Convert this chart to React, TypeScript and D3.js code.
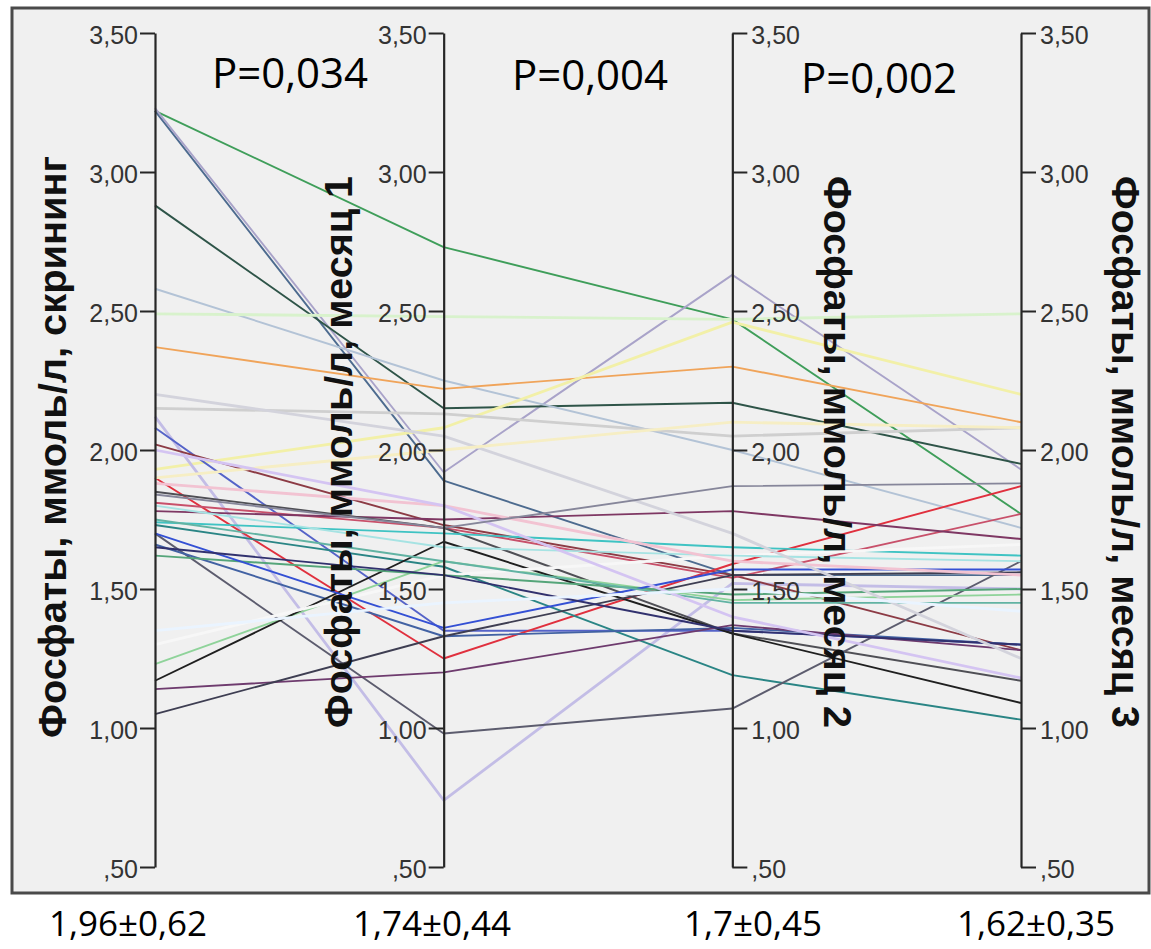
import React, { useEffect, useRef } from "react";
import * as d3 from "d3";

// phosphate values, mmol/l, one entry per patient
const dimensions = ["screening", "month1", "month2", "month3"];
const dimensionTitles = [
	"Фосфаты, ммоль/л, скрининг",
	"Фосфаты, ммоль/л, месяц 1",
	"Фосфаты, ммоль/л, месяц 2",
	"Фосфаты, ммоль/л, месяц 3",
];
const screening = [3.22, 3.22, 3.23, 2.88, 2.58, 2.49, 2.37, 1.93, 2.15, 2.12, 2.08, 2.02, 1.90, 1.81, 1.78, 1.85, 1.74, 1.73, 1.70, 1.66, 1.23, 1.17, 1.14, 1.05, 1.30, 1.62, 1.80, 1.70, 1.65, 1.88, 1.75, 2.20, 1.90, 2.00, 1.84, 1.35];
const month1 = [2.73, 1.89, 1.92, 2.15, 2.25, 2.48, 2.22, 2.08, 2.13, 0.74, 1.35, 1.73, 1.25, 1.72, 1.75, 1.72, 1.70, 1.58, 0.98, 1.33, 1.60, 1.67, 1.20, 1.33, 1.55, 1.55, 1.65, 1.36, 1.55, 1.80, 1.60, 2.05, 2.00, 1.80, 1.72, 1.45];
const month2 = [2.47, 1.55, 2.63, 2.17, 2.00, 2.47, 2.30, 2.46, 2.05, 1.52, 1.35, 1.55, 1.59, 1.54, 1.78, 1.34, 1.65, 1.19, 1.07, 1.36, 1.46, 1.34, 1.37, 1.55, 1.62, 1.48, 1.62, 1.57, 1.35, 1.60, 1.45, 1.70, 2.10, 1.40, 1.87, 1.50];
const month3 = [1.77, 1.55, 1.93, 1.95, 1.72, 2.49, 2.10, 2.20, 2.08, 1.50, 1.30, 1.28, 1.87, 1.77, 1.68, 1.17, 1.62, 1.03, 1.60, 1.30, 1.48, 1.09, 1.28, 1.56, 1.66, 1.50, 1.60, 1.57, 1.30, 1.55, 1.45, 1.25, 2.08, 1.18, 1.88, 1.42];
const caseColors = ["#3f9e5a", "#4d6b8f", "#a9a3c9", "#2e5448", "#b3c3d6", "#d8f2cc", "#f0a45a", "#f2f0a8", "#cfcfcf", "#c3bde6", "#5563c8", "#8c3b45", "#e0303e", "#c8506a", "#7e3763", "#4f4f55", "#3fc3c3", "#2a8585", "#5c5c6e", "#4262a3", "#8fd39a", "#1f1f1f", "#6e3b6e", "#3e3e52", "#f7f7f7", "#55a57a", "#a6e3e3", "#3450d4", "#31316e", "#f2c3d2", "#62b3a3", "#d3d3dc", "#f6eec4", "#d4c4f2", "#86869a", "#eaf4ff"];
const tickValues = [0.5, 1.0, 1.5, 2.0, 2.5, 3.0, 3.5];
const pValues = ["P=0,034", "P=0,004", "P=0,002"];
const summaries = ["1,96±0,62", "1,74±0,44", "1,7±0,45", "1,62±0,35"];

export default function App() {
	const ref = useRef<SVGSVGElement>(null);

	useEffect(() => {
		const svg = d3.select(ref.current);
		svg.selectAll("*").remove();

		const x = d3.scalePoint().domain(dimensions).range([155, 1021]);
		const y = d3.scaleLinear().domain([0.5, 3.5]).range([867, 33]);

		// frame
		svg.append("rect")
			.attr("x", 12).attr("y", 8)
			.attr("width", 1137).attr("height", 885)
			.attr("fill", "#f0f0f0")
			.attr("stroke", "#4a4a4a")
			.attr("stroke-width", 3);

		const rows = screening.map((d, i) => [screening[i], month1[i], month2[i], month3[i]]);

		const line = d3.line<number>()
			.x((d, i) => x(dimensions[i]) as number)
			.y(d => y(d));

		svg.append("g")
			.selectAll("path")
			.data(rows)
			.join("path")
			.attr("d", d => line(d))
			.attr("fill", "none")
			.attr("stroke", (d, i) => caseColors[i])
			.attr("stroke-width", (d, i) => (d3.hsl(caseColors[i]).l > 0.8 ? 2.8 : 1.9))
			.attr("stroke-linejoin", "round");

		const fmt = (v: number) => d3.format(".2f")(v).replace(/^0/, "").replace(".", ",");

		dimensions.forEach((dim, i) => {
			const left = i < 2;
			const axis = (left ? d3.axisLeft(y) : d3.axisRight(y))
				.tickValues(tickValues)
				.tickSize(15)
				.tickSizeOuter(0)
				.tickPadding(left ? 2 : 4)
				.tickFormat(v => fmt(v as number));

			const g = svg.append("g")
				.attr("transform", "translate(" + x(dim) + ",0)")
				.call(axis);

			g.select(".domain").attr("stroke", "#262626").attr("stroke-width", 2.2);
			g.selectAll(".tick line").attr("stroke", "#262626").attr("stroke-width", 2);
			g.selectAll(".tick text")
				.attr("font-family", "'Liberation Sans', Arial, sans-serif")
				.attr("font-size", 25)
				.attr("fill", "#333")
				.attr("dy", "0.4em");
		});

		// axis titles
		const titles = [
			{ x: 66, y: 447, rot: -90 },
			{ x: 352, y: 452, rot: -90 },
			{ x: 824, y: 452, rot: 90 },
			{ x: 1112, y: 452, rot: 90 },
		];
		titles.forEach((t, i) => {
			svg.append("text")
				.attr("transform", "translate(" + t.x + "," + t.y + ") rotate(" + t.rot + ")")
				.attr("text-anchor", "middle")
				.attr("font-family", "'Liberation Sans', Arial, sans-serif")
				.attr("font-weight", "bold")
				.attr("font-size", 38)
				.attr("textLength", i === 0 ? 582 : 552)
				.attr("lengthAdjust", "spacingAndGlyphs")
				.attr("fill", "#111")
				.text(dimensionTitles[i]);
		});

		// p-values between axes
		const pPos = [{ x: 290, y: 88 }, { x: 590, y: 90 }, { x: 879, y: 93 }];
		pValues.forEach((p, i) => {
			svg.append("text")
				.attr("x", pPos[i].x).attr("y", pPos[i].y)
				.attr("text-anchor", "middle")
				.attr("font-family", "'Open Sans', sans-serif")
				.attr("font-size", 42)
				.attr("fill", "#000")
				.text(p);
		});

		// mean ± sd under the frame
		const sPos = [128, 432, 753, 1036];
		summaries.forEach((s, i) => {
			svg.append("text")
				.attr("x", sPos[i]).attr("y", 936)
				.attr("text-anchor", "middle")
				.attr("font-family", "'Open Sans', sans-serif")
				.attr("font-size", 35)
				.attr("fill", "#000")
				.text(s);
		});
	}, []);

	return (
		<svg
			ref={ref}
			width={1151}
			height={949}
			style={{ position: "absolute", left: 0, top: 0, display: "block", background: "#fff" }}
		/>
	);
}
